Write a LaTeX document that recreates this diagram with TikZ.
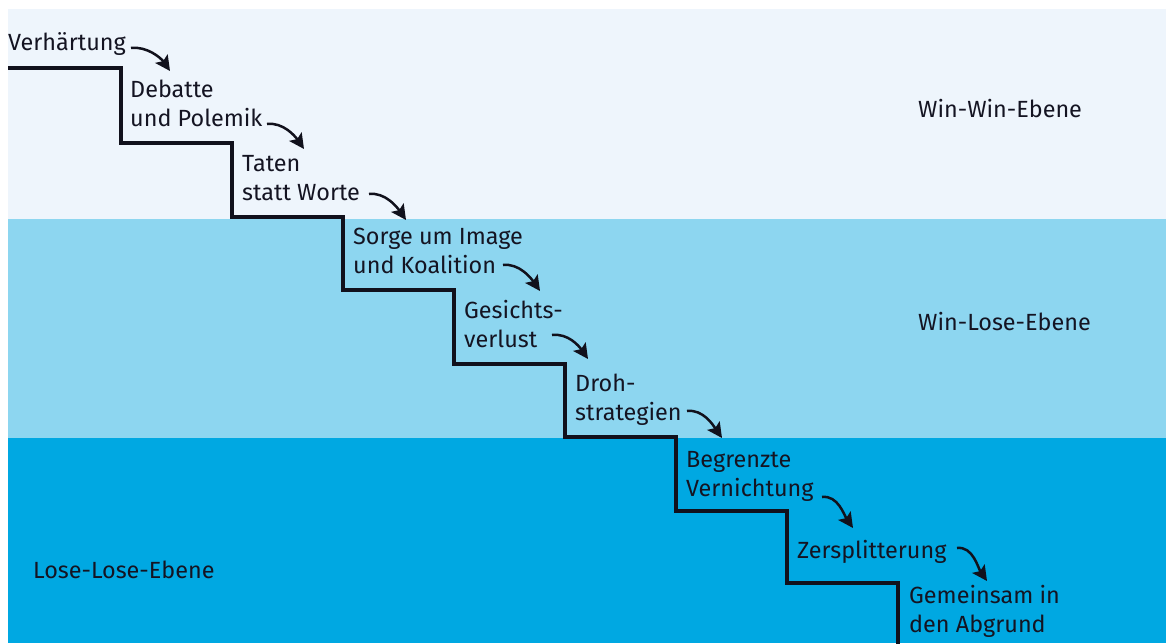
\documentclass[tikz,border=0pt]{standalone}
\usepackage{fontspec}
\setmainfont{Fira Sans}
\usetikzlibrary{arrows.meta}
\definecolor{bandtop}{RGB}{238,245,252}
\definecolor{bandmid}{RGB}{141,214,240}
\definecolor{bandlow}{RGB}{0,168,226}
\definecolor{txt}{RGB}{20,20,34}
\definecolor{ink}{RGB}{17,17,28}
\newcommand{\twoln}[2]{\vtop{\hbox{#1}\hbox{#2}}}
\begin{document}
\begin{tikzpicture}[x=1pt,y=-1pt,
  lbl/.style={anchor=base west, inner sep=0pt, text=txt, font=\fontsize{23.4}{29}\selectfont},
  stair/.style={draw=ink, line width=4.5pt, line join=miter},
  arr/.style={draw=ink, line width=2.5pt, -{Stealth[length=15pt,width=15pt,inset=3pt]}}]
\useasboundingbox (0,0) rectangle (1166,643);
\fill[white] (0,0) rectangle (1166,643);
\fill[bandtop] (8,9) rectangle (1166,219);
\fill[bandmid] (8,219) rectangle (1166,438);
\fill[bandlow] (8,438) rectangle (1166,643);
\draw[stair] (8,68) -- (121,68) -- (121,143) -- (232,143) -- (232,217) -- (343,217)
  -- (343,290) -- (454,290) -- (454,364) -- (565,364) -- (565,437) -- (676,437)
  -- (676,511) -- (787,511) -- (787,583) -- (898,583) -- (898,646);
\node[lbl] (t1) at (8,50) {Verhärtung};
\node[lbl] (t2) at (130,97) {\twoln{Debatte}{und Polemik}};
\node[lbl] (t3) at (242,171) {\twoln{Taten}{statt Worte}};
\node[lbl] (t4) at (353,244) {\twoln{Sorge um Image}{und Koalition}};
\node[lbl] (t5) at (464,318) {\twoln{Gesichts-}{verlust}};
\node[lbl] (t6) at (575,391) {\twoln{Droh-}{strategien}};
\node[lbl] (t7) at (686,467) {\twoln{Begrenzte}{Vernichtung}};
\node[lbl] (t8) at (797,558) {Zersplitterung};
\node[lbl] (t9) at (909,603) {\twoln{Gemeinsam in}{den Abgrund}};
\node[lbl] (w1) at (918,117) {Win-Win-Ebene};
\node[lbl] (w2) at (918,330) {Win-Lose-Ebene};
\node[lbl] (w3) at (33,578) {Lose-Lose-Ebene};
\coordinate (a1s) at (131,48);  \coordinate (a1e) at (170,71);
\coordinate (a2s) at (267,124); \coordinate (a2e) at (304,149);
\coordinate (a3s) at (369,194); \coordinate (a3e) at (406,220);
\coordinate (a4s) at (503,265); \coordinate (a4e) at (540,291);
\coordinate (a5s) at (552,335); \coordinate (a5e) at (588,359);
\coordinate (a6s) at (687,411); \coordinate (a6e) at (722,438);
\coordinate (a7s) at (822,497); \coordinate (a7e) at (853,528);
\coordinate (a8s) at (957,548); \coordinate (a8e) at (987,581);
\foreach \i in {1,...,8}{
  \draw[arr] (a\i s) .. controls +(16,-2) and +(-9,-13) .. (a\i e);
}
\end{tikzpicture}
\end{document}
